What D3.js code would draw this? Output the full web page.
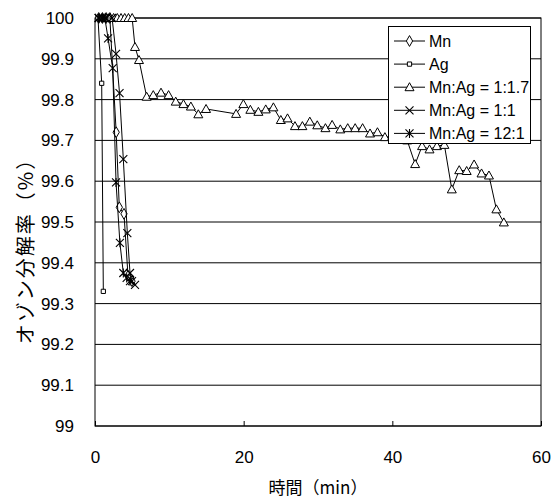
<!DOCTYPE html>
<html>
<head>
<meta charset="utf-8">
<script src="https://cdn.jsdelivr.net/npm/d3@7"></script>
<style>
  body { margin: 0; background: #fff; }
  text { font-family: "Liberation Sans", Arial, sans-serif; fill: #000; }
  .jp { font-family: "Noto Sans CJK JP", sans-serif; }
</style>
</head>
<body>
<script>
// time (min) and ozone decomposition (%) per series
const mnTime = [0.5, 1.0, 1.5, 2.0, 2.85, 3.27, 3.9, 4.44, 4.98];
const mnValue = [100, 100, 100, 100, 99.72, 99.536, 99.52, 99.368, 99.355];

const agTime = [0.4, 0.9, 1.12];
const agValue = [100, 99.84, 99.33];

const r17Time = [1.5, 2.0, 2.5, 3.0, 3.5, 4.0, 4.5, 5.0, 5.38, 5.92, 6.95, 7.84, 8.88, 9.9, 10.86, 11.9, 12.9, 13.9, 14.94,
  18.98, 19.96, 20.9, 21.98, 22.97, 24.0, 25.0, 25.9, 26.9, 27.9, 28.9, 29.9, 31.0, 31.9, 33.0, 34.0, 35.0, 36.0, 37.0, 38.0, 39.0,
  40.0, 41.0, 42.0, 43.07, 44.0, 45.0, 46.0, 47.0, 48.0, 49.0, 50.0, 51.0, 52.0, 53.0, 54.0, 55.0];
const r17Value = [100, 100, 100, 100, 100, 100, 100, 100, 99.929, 99.897, 99.807, 99.811, 99.817, 99.811, 99.795, 99.789, 99.783, 99.764, 99.777,
  99.765, 99.789, 99.775, 99.770, 99.776, 99.781, 99.750, 99.754, 99.735, 99.735, 99.746, 99.737, 99.730, 99.738, 99.727, 99.730, 99.730, 99.730, 99.717, 99.720, 99.708,
  99.71, 99.705, 99.70, 99.642, 99.686, 99.678, 99.686, 99.689, 99.580, 99.627, 99.625, 99.641, 99.619, 99.614, 99.531, 99.499];

const r11Time = [0.5, 1.0, 1.5, 2.3, 2.83, 3.3, 3.81, 4.35, 4.71, 4.98, 5.38];
const r11Value = [100, 100, 100, 100, 99.912, 99.816, 99.654, 99.473, 99.375, 99.355, 99.346];

const r121Time = [0.5, 1.0, 1.32, 1.76, 2.38, 2.83, 3.35, 3.81, 4.26, 4.71];
const r121Value = [100, 100, 100, 99.95, 99.877, 99.597, 99.449, 99.375, 99.363, 99.355];

const seriesNames = ["Mn", "Ag", "Mn:Ag = 1:1.7", "Mn:Ag = 1:1", "Mn:Ag = 12:1"];
const seriesMarkers = ["diamond", "square", "triangle", "cross", "star"];
const xTicks = [0, 20, 40, 60];
const yTicks = [99, 99.1, 99.2, 99.3, 99.4, 99.5, 99.6, 99.7, 99.8, 99.9, 100];
const yTickLabels = ["99", "99.1", "99.2", "99.3", "99.4", "99.5", "99.6", "99.7", "99.8", "99.9", "100"];

const series = [
  [mnTime, mnValue], [agTime, agValue], [r17Time, r17Value], [r11Time, r11Value], [r121Time, r121Value]
].map(([t, v], i) => ({
  name: seriesNames[i],
  marker: seriesMarkers[i],
  points: t.map((d, j) => [d, v[j]])
}));

const width = 553, height = 500;
const plotLeft = 95, plotRight = 541, plotTop = 18, plotBottom = 426;

const svg = d3.select("body").append("svg")
  .attr("width", width)
  .attr("height", height);

const x = d3.scaleLinear().domain([0, 60]).range([plotLeft, plotRight]);
const y = d3.scaleLinear().domain([99, 100]).range([plotBottom, plotTop]);

// horizontal grid
svg.append("g")
  .selectAll("line")
  .data(yTicks)
  .join("line")
  .attr("x1", plotLeft).attr("x2", plotRight)
  .attr("y1", d => y(d)).attr("y2", d => y(d))
  .attr("stroke", "#000")
  .attr("stroke-width", 1);

// frame
svg.append("rect")
  .attr("x", plotLeft).attr("y", plotTop)
  .attr("width", plotRight - plotLeft).attr("height", plotBottom - plotTop)
  .attr("fill", "none")
  .attr("stroke", "#000");

// x axis: inner ticks, labels below
const xAxis = svg.append("g")
  .attr("transform", `translate(0,${plotBottom})`)
  .call(d3.axisBottom(x).tickValues(xTicks).tickSizeInner(-5).tickSizeOuter(0).tickPadding(25));
xAxis.select(".domain").remove();
xAxis.selectAll("text")
  .style("font-size", "17px")
  .style("font-family", "'Liberation Sans', Arial, sans-serif");

// y axis labels
const yAxis = svg.append("g")
  .attr("transform", `translate(${plotLeft},0)`)
  .call(d3.axisLeft(y).tickValues(yTicks).tickFormat((d, i) => yTickLabels[i]).tickSize(0).tickPadding(21));
yAxis.select(".domain").remove();
yAxis.selectAll("text")
  .style("font-size", "17px")
  .style("font-family", "'Liberation Sans', Arial, sans-serif");

// axis titles
svg.append("text")
  .attr("class", "jp")
  .attr("x", (plotLeft + plotRight) / 2)
  .attr("y", 494)
  .attr("text-anchor", "middle")
  .style("font-size", "17px")
  .text("時間（min）");

svg.append("text")
  .attr("class", "jp")
  .attr("transform", "translate(33,246) rotate(-90)")
  .attr("text-anchor", "middle")
  .style("font-size", "20px")
  .style("letter-spacing", "2px")
  .text("オゾン分解率（%）");

// markers
function drawMarker(g, type) {
  if (type === "diamond") {
    g.append("path").attr("d", d3.symbol(d3.symbolDiamond, 34)())
      .attr("fill", "#fff").attr("stroke", "#000");
  } else if (type === "square") {
    g.append("path").attr("d", d3.symbol(d3.symbolSquare, 18)())
      .attr("fill", "#fff").attr("stroke", "#000");
  } else if (type === "triangle") {
    g.append("path").attr("d", "M0,-4.5L4.5,3.5L-4.5,3.5Z")
      .attr("fill", "#fff").attr("stroke", "#000");
  } else if (type === "cross") {
    g.append("path").attr("d", "M-4,-4L4,4M-4,4L4,-4")
      .attr("stroke", "#000").attr("stroke-width", 1.1);
  } else if (type === "star") {
    g.append("path").attr("d", "M-4,-4L4,4M-4,4L4,-4M0,-4.5L0,4.5")
      .attr("stroke", "#000").attr("stroke-width", 1.1);
  }
}

const line = d3.line().x(d => x(d[0])).y(d => y(d[1]));

series.forEach(s => {
  const g = svg.append("g");
  g.append("path")
    .attr("d", line(s.points))
    .attr("fill", "none")
    .attr("stroke", "#000")
    .attr("stroke-width", 1);
  s.points.forEach(p => {
    const m = g.append("g").attr("transform", `translate(${x(p[0])},${y(p[1])})`);
    drawMarker(m, s.marker);
  });
});

// legend
const lg = svg.append("g");
lg.append("rect")
  .attr("x", 388.5).attr("y", 26.5)
  .attr("width", 142).attr("height", 117)
  .attr("fill", "#fff").attr("stroke", "#000");

series.forEach((s, i) => {
  const ly = 41 + i * 23.1;
  lg.append("line")
    .attr("x1", 394).attr("x2", 425)
    .attr("y1", ly).attr("y2", ly)
    .attr("stroke", "#000");
  drawMarker(lg.append("g").attr("transform", `translate(409.5,${ly})`), s.marker);
  lg.append("text")
    .attr("x", 429)
    .attr("y", ly)
    .attr("dy", "0.35em")
    .style("font-size", "16px")
    .text(s.name);
});
</script>
</body>
</html>
